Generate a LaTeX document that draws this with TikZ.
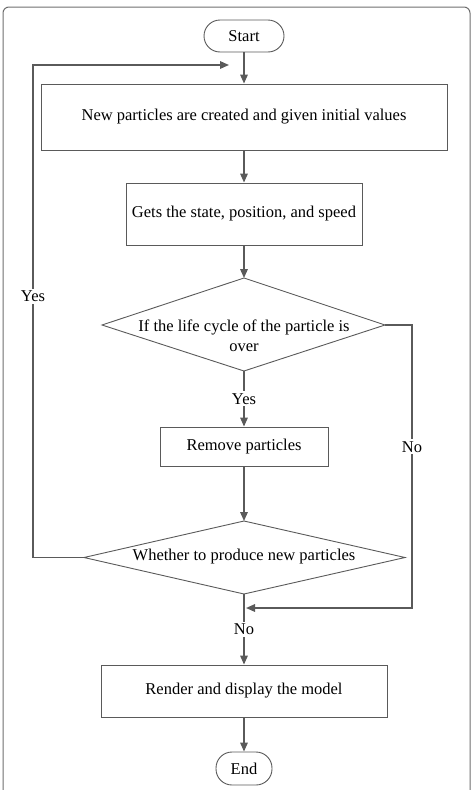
\documentclass[tikz,border=0pt]{standalone}
\usepackage{fontspec}
\setmainfont{Liberation Serif}
\usetikzlibrary{arrows.meta}
\definecolor{linegray}{HTML}{5A5A5A}
\definecolor{framegray}{HTML}{6E6E6E}

\begin{document}
\begin{tikzpicture}[x=1pt,y=-1pt,
  every node/.style={font=\fontsize{16.5}{20}\selectfont},
  box/.style={draw=linegray,line width=0.9pt,fill=white,inner sep=0pt},
  term/.style={box,rounded corners=16pt},
  flow/.style={draw=linegray,line width=1.6pt,-{Triangle[length=9pt,width=7.5pt]}},
  lbl/.style={fill=white,inner sep=2pt}]
\useasboundingbox (0,0) rectangle (472,790);
% outer frame
\draw[framegray,line width=1pt,rounded corners=6pt] (3,795) -- (3,7) -- (470,7) -- (470,795);
% steps
\node[term,minimum width=80pt,minimum height=32pt] (start) at (244,36) {Start};
\node[box,minimum width=406pt,minimum height=66pt] (create) at (244,117) {New particles are created and given initial values};
\node[box,minimum width=236pt,minimum height=62pt] (state) at (244,214) {Gets the state, position, and speed};
\node[box,minimum width=168pt,minimum height=39pt] (remove) at (244,446.5) {Remove particles};
\node[box,minimum width=286pt,minimum height=52pt] (render) at (244,691) {Render and display the model};
\node[term,minimum width=56pt,minimum height=33pt] (end) at (244,768.5) {End};
% decisions
\coordinate (lifeT) at (244,278);
\coordinate (lifeR) at (385,325);
\coordinate (lifeB) at (244,371);
\coordinate (lifeL) at (102,325);
\draw[linegray,line width=0.9pt] (lifeT) -- (lifeR) -- (lifeB) -- (lifeL) -- cycle;
\node[align=center] (life) at (244,336) {If the life cycle of the particle is\\over};
\coordinate (newT) at (244,521);
\coordinate (newR) at (405,557.5);
\coordinate (newB) at (244,594);
\coordinate (newL) at (84,557.5);
\draw[linegray,line width=0.9pt] (newT) -- (newR) -- (newB) -- (newL) -- cycle;
\node (produce) at (244,557) {Whether to produce new particles};
% bends
\coordinate (noTop) at (412,325);
\coordinate (noBot) at (412,608);
\coordinate (join) at (246,608);
\coordinate (yesBot) at (33,557.5);
\coordinate (yesTop) at (33,65);
\coordinate (back) at (229,65);
% connectors
\draw[flow] (start) -- (create);
\draw[flow] (create) -- (state);
\draw[flow] (state) -- (lifeT);
\draw[flow] (lifeB) -- node[lbl] {Yes} (remove);
\draw[flow] (remove) -- (newT);
\draw[flow] (newB) -- node[lbl,pos=0.5] {No} (render);
\draw[flow] (render) -- (end);
\draw[flow] (lifeR) -- (noTop) -- node[lbl,pos=0.43] {No} (noBot) -- (join);
\draw[flow] (newL) -- (yesBot) -- node[lbl,pos=0.53] {Yes} (yesTop) -- (back);
\end{tikzpicture}
\end{document}
